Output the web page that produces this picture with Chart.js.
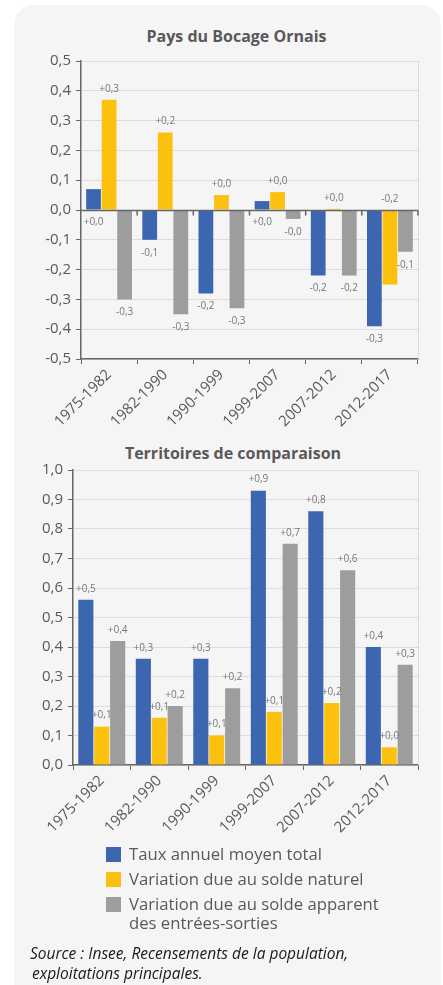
<!DOCTYPE html>
<html>
<head>
<meta charset="utf-8">
<script src="https://cdn.jsdelivr.net/npm/chart.js@4.4.1/dist/chart.umd.min.js"></script>
<style>
  html, body { margin: 0; padding: 0; background: #fff; }
  body { width: 443px; height: 985px; position: relative; overflow: hidden; font-family: "Open Sans", sans-serif; }
  #panel { position: absolute; left: 14px; top: 5px; width: 427px; height: 1000px; background: #f5f5f5; border-radius: 20px; }
  canvas { position: absolute; left: 0; }
  .title { position: absolute; left: 0; font-size: 16px; font-weight: bold; color: #595959; line-height: 20px; text-align: center; white-space: nowrap; }
  .leg { position: absolute; left: 106px; font-size: 16.7px; color: #595959; line-height: 20px; }
  .leg i { position: absolute; left: 0; top: 3px; width: 15px; height: 15px; }
  .leg span { display: block; margin-left: 23px; white-space: nowrap; }
  #leg3 { line-height: 19px; }
  #source { position: absolute; left: 30px; top: 943px; font-size: 15.5px; font-style: italic; color: #1a1a1a; line-height: 20px; white-space: nowrap; }
</style>
</head>
<body>
<div id="panel"></div>
<div class="title" style="top:26px;width:473px">Pays du Bocage Ornais</div>
<div class="title" style="top:443px;width:466px">Territoires de comparaison</div>
<canvas id="bocage" width="443" height="440" style="top:0"></canvas>
<canvas id="comparaison" width="443" height="420" style="top:420px"></canvas>
<div id="legend"></div>
<div id="source">Source : Insee, Recensements de la population,<br><span style="padding-left:2px">exploitations principales.</span></div>
<script>
const periods = ["1975-1982", "1982-1990", "1990-1999", "1999-2007", "2007-2012", "2012-2017"];
const seriesNames = [
    "Taux annuel moyen total",
    "Variation due au solde naturel",
    ["Variation due au solde apparent", "des entrées-sorties"],
];
const seriesColors = ["#3c66af", "#fcc10f", "#9d9d9d"];

// Pays du Bocage Ornais
const bocageTotal = [0.07, -0.10, -0.28, 0.03, -0.22, -0.39];
const bocageNaturel = [0.37, 0.26, 0.05, 0.06, 0.004, -0.25];
const bocageMigratoire = [-0.30, -0.35, -0.33, -0.03, -0.22, -0.14];
const bocageTotalLabels = ["+0,0", "-0,1", "-0,2", "+0,0", "-0,2", "-0,3"];
const bocageNaturelLabels = ["+0,3", "+0,2", "+0,0", "+0,0", "+0,0", "-0,2"];
const bocageMigratoireLabels = ["-0,3", "-0,3", "-0,3", "-0,0", "-0,2", "-0,1"];

// Territoires de comparaison
const compTotal = [0.56, 0.36, 0.36, 0.93, 0.86, 0.40];
const compNaturel = [0.13, 0.16, 0.10, 0.18, 0.21, 0.06];
const compMigratoire = [0.42, 0.20, 0.26, 0.75, 0.66, 0.34];
const compTotalLabels = ["+0,5", "+0,3", "+0,3", "+0,9", "+0,8", "+0,4"];
const compNaturelLabels = ["+0,1", "+0,1", "+0,1", "+0,1", "+0,2", "+0,0"];
const compMigratoireLabels = ["+0,4", "+0,2", "+0,2", "+0,7", "+0,6", "+0,3"];

const fmt = (v) => Number(v).toFixed(1).replace(".", ",");

// right border of the plot + category axis crossing at 0
const frame = {
    id: "frame",
    afterDatasetsDraw(chart) {
        const { ctx, chartArea: a, scales } = chart;
        ctx.save();
        ctx.strokeStyle = "#d9d9d9";
        ctx.lineWidth = 1;
        ctx.beginPath();
        ctx.moveTo(a.right + 0.5, a.top);
        ctx.lineTo(a.right + 0.5, a.bottom);
        ctx.stroke();
        if (scales.y.min < 0) {
            const y0 = Math.round(scales.y.getPixelForValue(0)) + 0.5;
            const n = chart.data.labels.length;
            ctx.strokeStyle = "#666";
            ctx.lineWidth = 1.5;
            ctx.beginPath();
            ctx.moveTo(a.left, y0);
            ctx.lineTo(a.right, y0);
            for (let i = 1; i <= n; i++) {
                const x = a.left + (i * a.width) / n;
                ctx.moveTo(x, y0);
                ctx.lineTo(x, y0 + 5);
            }
            ctx.stroke();
        }
        ctx.restore();
    },
};

// value labels, above ("high") or below ("low") the bar
const valueLabels = {
    id: "valueLabels",
    afterDatasetsDraw(chart) {
        const ctx = chart.ctx;
        ctx.save();
        ctx.font = '10px "Open Sans"';
        ctx.fillStyle = "#777";
        ctx.textAlign = "center";
        ctx.textBaseline = "middle";
        chart.data.datasets.forEach((ds, i) => {
            chart.getDatasetMeta(i).data.forEach((bar, j) => {
                const top = Math.min(bar.y, bar.base);
                const bottom = Math.max(bar.y, bar.base);
                const y = ds.labelSide === "low" ? bottom + 13 : top - 11;
                ctx.fillText(ds.valueLabels[j], bar.x, y);
            });
        });
        ctx.restore();
    },
};

const makeChart = (id, cfg) => {
    const datasets = cfg.values.map((data, i) => ({
        label: Array.isArray(seriesNames[i]) ? seriesNames[i].join(" ") : seriesNames[i],
        data,
        backgroundColor: seriesColors[i],
        valueLabels: cfg.labels[i],
        labelSide: cfg.sides[i],
        categoryPercentage: 0.83,
        barPercentage: 0.95,
    }));
    return new Chart(document.getElementById(id), {
        type: "bar",
        data: { labels: periods, datasets },
        plugins: [frame, valueLabels],
        options: {
            responsive: false,
            animation: false,
            layout: { padding: { left: cfg.padLeft, right: 25, top: cfg.padTop, bottom: 0 } },
            plugins: {
                legend: { display: false },
                tooltip: { enabled: false },
                title: { display: false },
            },
            scales: {
                x: {
                    afterFit: (s) => { s.height = cfg.xHeight; },
                    grid: { drawOnChartArea: false, offset: true, tickLength: 5, color: "#666" },
                    border: { color: "#666", width: 1.5 },
                    ticks: {
                        color: "#595959",
                        font: { family: "Open Sans", size: 15 },
                        minRotation: 45,
                        maxRotation: 45,
                        padding: 2,
                        autoSkip: false,
                    },
                },
                y: {
                    min: cfg.min,
                    max: cfg.max,
                    afterFit: (s) => { s.width = cfg.yWidth; },
                    grid: { color: "#dcdcdc", tickColor: "#666", tickLength: 5 },
                    border: { color: "#666", width: 1.5 },
                    ticks: {
                        stepSize: 0.1,
                        color: "#595959",
                        padding: 5,
                        font: { family: "Open Sans", size: 15 },
                        callback: (v) => fmt(v),
                    },
                },
            },
        },
    });
};

makeChart("bocage", {
    values: [bocageTotal, bocageNaturel, bocageMigratoire],
    labels: [bocageTotalLabels, bocageNaturelLabels, bocageMigratoireLabels],
    sides: ["low", "high", "low"],
    min: -0.5,
    max: 0.5,
    padLeft: 20,
    padTop: 61,
    yWidth: 61,
    xHeight: 81,
});

makeChart("comparaison", {
    values: [compTotal, compNaturel, compMigratoire],
    labels: [compTotalLabels, compNaturelLabels, compMigratoireLabels],
    sides: ["high", "high", "high"],
    min: 0,
    max: 1.0,
    padLeft: 20,
    padTop: 50,
    yWidth: 53,
    xHeight: 75,
});

// legend, built from the series names and colours
const legendTops = [844, 869, 894];
const legend = document.getElementById("legend");
seriesNames.forEach((name, i) => {
    const row = document.createElement("div");
    row.className = "leg";
    if (i === 2) row.id = "leg3";
    row.style.top = legendTops[i] + "px";
    const sw = document.createElement("i");
    sw.style.background = seriesColors[i];
    row.appendChild(sw);
    const txt = document.createElement("span");
    txt.innerHTML = Array.isArray(name) ? name.join("<br>") : name;
    row.appendChild(txt);
    legend.appendChild(row);
});
</script>
</body>
</html>
